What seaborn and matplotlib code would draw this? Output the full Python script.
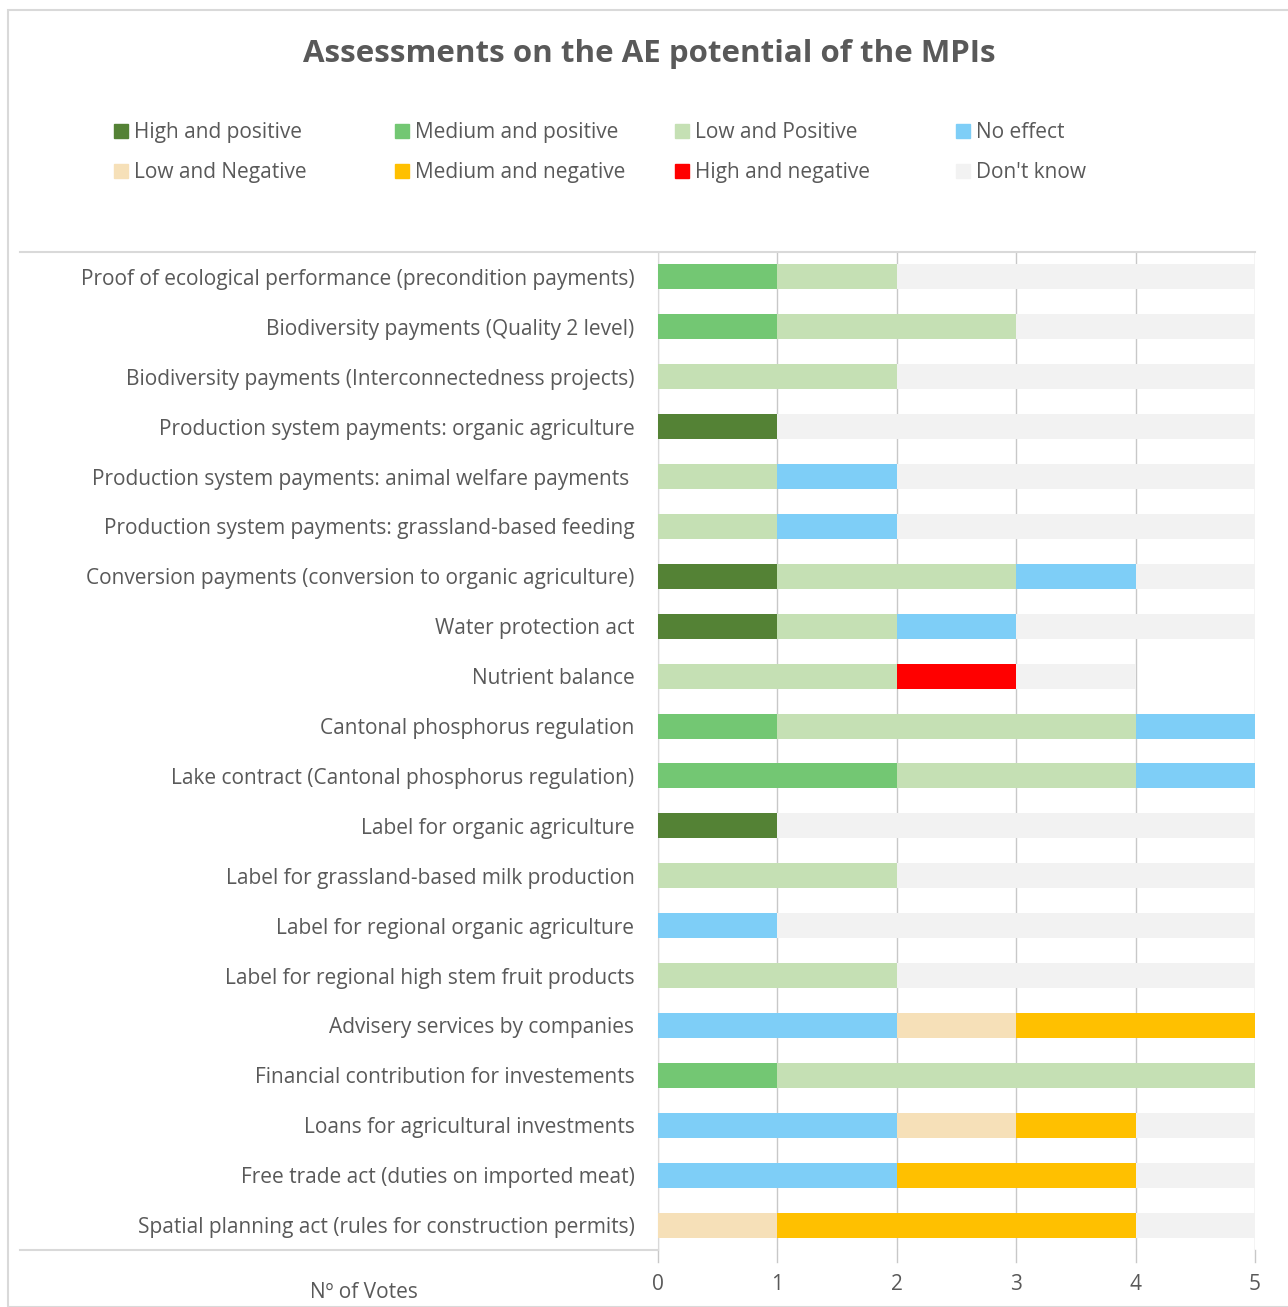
import numpy as np
import pandas as pd
import matplotlib
matplotlib.use('Agg')
import matplotlib.pyplot as plt
import matplotlib.patches as mpatches
from matplotlib.lines import Line2D
import seaborn as sns

# Measures (top to bottom) and vote counts per category
measures = [
    'Proof of ecological performance (precondition payments)',
    'Biodiversity payments (Quality 2 level)',
    'Biodiversity payments (Interconnectedness projects)',
    'Production system payments: organic agriculture',
    'Production system payments: animal welfare payments ',
    'Production system payments: grassland-based feeding',
    'Conversion payments (conversion to organic agriculture)',
    'Water protection act',
    'Nutrient balance',
    'Cantonal phosphorus regulation',
    'Lake contract (Cantonal phosphorus regulation)',
    'Label for organic agriculture',
    'Label for grassland-based milk production',
    'Label for regional organic agriculture',
    'Label for regional high stem fruit products',
    'Advisery services by companies',
    'Financial contribution for investements',
    'Loans for agricultural investments',
    'Free trade act (duties on imported meat)',
    'Spatial planning act (rules for construction permits)',
]

categories = ['High and positive', 'Medium and positive', 'Low and Positive', 'No effect',
              'Low and Negative', 'Medium and negative', 'High and negative', "Don't know"]

high_pos = [0, 0, 0, 1, 0, 0, 1, 1, 0, 0, 0, 1, 0, 0, 0, 0, 0, 0, 0, 0]
med_pos  = [1, 1, 0, 0, 0, 0, 0, 0, 0, 1, 2, 0, 0, 0, 0, 0, 1, 0, 0, 0]
low_pos  = [1, 2, 2, 0, 1, 1, 2, 1, 2, 3, 2, 0, 2, 0, 2, 0, 4, 0, 0, 0]
no_eff   = [0, 0, 0, 0, 1, 1, 1, 1, 0, 1, 1, 0, 0, 1, 0, 2, 0, 2, 2, 0]
low_neg  = [0, 0, 0, 0, 0, 0, 0, 0, 0, 0, 0, 0, 0, 0, 0, 1, 0, 1, 0, 1]
med_neg  = [0, 0, 0, 0, 0, 0, 0, 0, 0, 0, 0, 0, 0, 0, 0, 2, 0, 1, 2, 3]
high_neg = [0, 0, 0, 0, 0, 0, 0, 0, 1, 0, 0, 0, 0, 0, 0, 0, 0, 0, 0, 0]
dont_know = [3, 2, 3, 4, 3, 3, 1, 2, 1, 0, 0, 4, 3, 4, 3, 0, 0, 1, 1, 1]

colors = ['#548235', '#73C773', '#C5E0B4', '#7ECEF7',
          '#F6E0B8', '#FFC000', '#FF0000', '#F2F2F2']

df = pd.DataFrame(dict(zip(categories, [high_pos, med_pos, low_pos, no_eff,
                                         low_neg, med_neg, high_neg, dont_know])),
                  index=measures)
cum = df.cumsum(axis=1)

text_col = '#595959'
grid_col = '#C8C8C8'
plt.rcParams['font.family'] = ['Open Sans', 'DejaVu Sans']

fig = plt.figure(figsize=(12.88, 13.07), dpi=100)
ax = fig.add_axes([658 / 1288, 1 - 1250 / 1307, (1255 - 658) / 1288, (1250 - 252) / 1307])

# stacked bars: draw cumulative totals from the last category back to the first
for cat, col in reversed(list(zip(categories, colors))):
    sns.barplot(x=cum[cat].values, y=measures, color=col, orient='h',
                width=0.5, ax=ax, saturation=1, zorder=3)

ax.set_xlim(0, 5)
ax.set_ylim(19.5, -0.5)
ax.set_xticks(range(6))
ax.set_xlabel('')
ax.set_ylabel('')
ax.grid(axis='x', color=grid_col, linewidth=1, zorder=0)
ax.tick_params(axis='x', length=0, pad=17, labelsize=15, labelcolor=text_col)
ax.tick_params(axis='y', length=0, pad=17, labelsize=15, labelcolor=text_col)
for s in ['top', 'right', 'bottom']:
    ax.spines[s].set_visible(False)
ax.spines['left'].set_color('#D9D9D9')
ax.set_axisbelow(True)

# tick marks below the plot area
for xv in range(6):
    ax.plot([xv, xv], [19.5, 19.75], color=grid_col, lw=1, clip_on=False, zorder=1)

# frame lines around the label area
y_top = 1 - 252 / 1307
y_bot = 1 - 1250 / 1307
fig.add_artist(Line2D([20 / 1288, 1255 / 1288], [y_top, y_top], color='#D9D9D9', lw=1.5))
fig.add_artist(Line2D([20 / 1288, 658 / 1288], [y_bot, y_bot], color='#D9D9D9', lw=1.5))

# outer chart border
fig.add_artist(mpatches.Rectangle((8 / 1288, 0), 1.0, 1 - 10 / 1307, fill=False,
                                  edgecolor='#D9D9D9', lw=1.5, transform=fig.transFigure))

fig.text(0.5045, 1 - 54 / 1307, 'Assessments on the AE potential of the MPIs',
         ha='center', va='center', fontsize=22.5, fontweight='bold', color=text_col)

fig.text(364 / 1288, 1 - 1293 / 1307, 'Nº of Votes', ha='center', va='center',
         fontsize=15, color=text_col)

# legend: four equal-width columns, two rows each
handles = [mpatches.Patch(color=c, label=l) for l, c in zip(categories, colors)]
col_x = [114, 395, 675, 956]
for i, x0 in enumerate(col_x):
    leg = fig.legend([handles[i], handles[i + 4]], [categories[i], categories[i + 4]],
                     loc='upper left', bbox_to_anchor=(x0 / 1288, 1 - 122 / 1307),
                     frameon=False, fontsize=15, labelcolor=text_col,
                     handlelength=0.65, handleheight=0.65, handletextpad=0.3,
                     labelspacing=0.92, borderaxespad=0, borderpad=0)

fig.savefig('out.png', dpi=100)
